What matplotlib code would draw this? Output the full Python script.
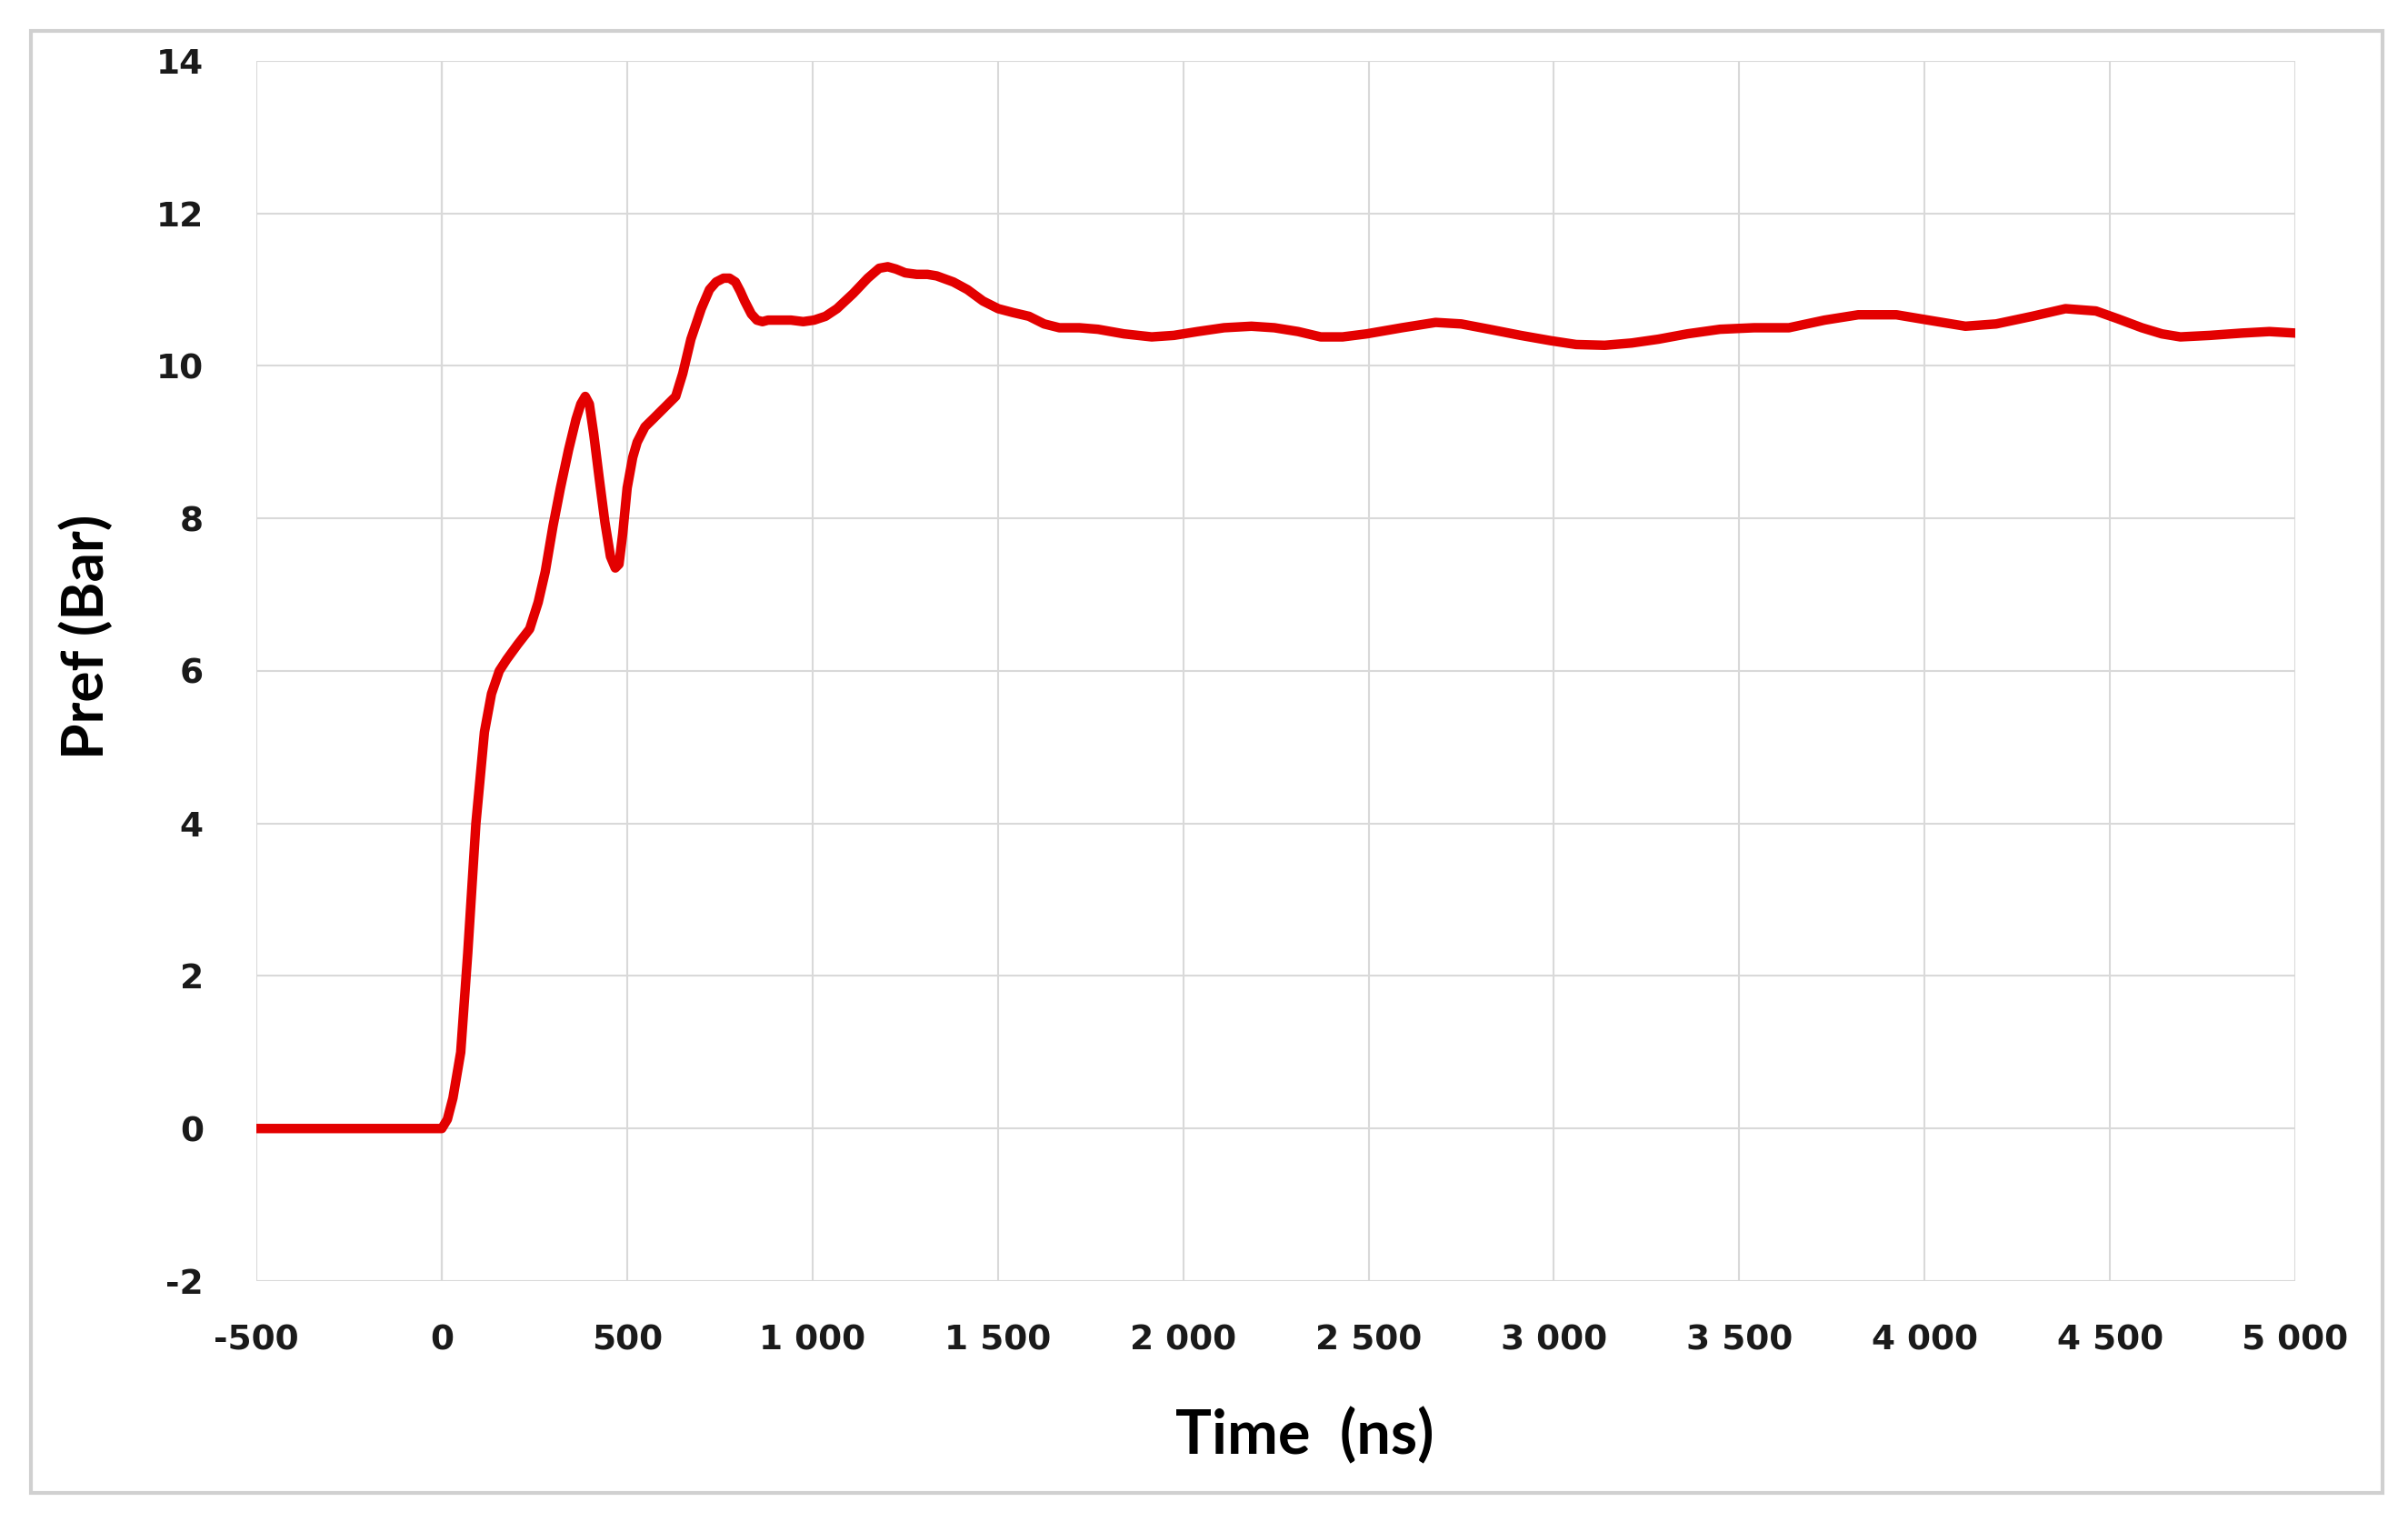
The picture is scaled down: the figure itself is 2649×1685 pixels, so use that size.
import matplotlib.pyplot as plt
from matplotlib.patches import Rectangle
from matplotlib.ticker import FuncFormatter

# values
time_ns = [-500, -400, -300, -200, -100, 0, 15, 30, 51, 70, 92, 115, 134, 155, 175, 205, 237, 260,
           279, 300, 320, 342, 362, 375, 387, 398, 410, 424, 440, 455, 468, 478, 488, 500, 515, 527, 548, 569,
           600, 631, 650, 672, 700, 722, 740, 760, 776, 792, 805, 817, 835, 850, 865, 880, 910, 942, 975, 1004,
           1035, 1066, 1110, 1149, 1180, 1203, 1225, 1250, 1281, 1310, 1335, 1380, 1418, 1460, 1501,
           1540, 1584, 1625, 1666, 1720, 1770, 1840, 1915, 1975, 2039, 2110, 2184, 2246,
           2310, 2371, 2430, 2495, 2590, 2681, 2750, 2826, 2910, 2992, 3060, 3137, 3210,
           3282, 3360, 3448, 3540, 3634, 3730, 3821, 3924, 4010, 4110, 4193, 4290, 4380,
           4462, 4520, 4586, 4640, 4690, 4770, 4856, 4930, 5000]
pressure_bar = [0.0, 0.0, 0.0, 0.0, 0.0, 0.0, 0.12, 0.4, 1.0, 2.3, 4.0, 5.2, 5.7, 6.0, 6.15, 6.35, 6.55, 6.9,
                7.3, 7.9, 8.4, 8.9, 9.3, 9.5, 9.6, 9.5, 9.1, 8.55, 7.95, 7.5, 7.35, 7.4, 7.8, 8.4, 8.8, 9.0, 9.2, 9.3,
                9.45, 9.6, 9.9, 10.35, 10.75, 11.0, 11.1, 11.15, 11.15, 11.1, 10.98, 10.85, 10.68, 10.6, 10.58, 10.6, 10.6, 10.6, 10.58, 10.6,
                10.65, 10.75, 10.95, 11.15, 11.28, 11.3, 11.27, 11.22, 11.2, 11.2, 11.18, 11.1, 11.0, 10.85, 10.75,
                10.7, 10.65, 10.55, 10.5, 10.5, 10.48, 10.42, 10.38, 10.4, 10.45, 10.5, 10.52, 10.5,
                10.45, 10.38, 10.38, 10.42, 10.5, 10.57, 10.55, 10.48, 10.4, 10.33, 10.28, 10.27, 10.3,
                10.35, 10.42, 10.48, 10.5, 10.5, 10.6, 10.67, 10.67, 10.6, 10.52, 10.55, 10.65, 10.75,
                10.72, 10.62, 10.5, 10.42, 10.38, 10.4, 10.43, 10.45, 10.43]

x_ticks = list(range(-500, 5001, 500))
y_ticks = list(range(-2, 15, 2))


def thousands(v, pos):
    v = int(round(v))
    s = f"{abs(v):,}".replace(",", " ")
    return ("-" if v < 0 else "") + s


fig = plt.figure(figsize=(26.49, 16.85), dpi=100)
ax = fig.add_axes([0.1065, 0.1638, 0.8467, 0.7965])

ax.plot(time_ns, pressure_bar, color="#e30000", lw=7.5, solid_capstyle="round",
        solid_joinstyle="round", zorder=3)

ax.set_xlim(-500, 5000)
ax.set_ylim(-2, 14)
ax.set_xticks(x_ticks)
ax.set_yticks(y_ticks)
ax.xaxis.set_major_formatter(FuncFormatter(thousands))
ax.yaxis.set_major_formatter(FuncFormatter(lambda v, p: f"{int(v)}"))
ax.grid(True, color="#d9d9d9", lw=1.5, zorder=0)
ax.axvline(0, color="#a6a6a6", lw=1.5, zorder=1)
for s in ax.spines.values():
    s.set_visible(False)
ax.tick_params(axis="x", length=0, labelsize=27, pad=34)
ax.tick_params(axis="y", length=0, labelsize=27, pad=42)
for lab in ax.get_xticklabels() + ax.get_yticklabels():
    lab.set_fontweight("bold")
    lab.set_color("#1a1a1a")

ax.set_xlabel("Time  (ns)", fontsize=48, fontweight="bold", family="Lato", labelpad=40)
ax.set_ylabel("Pref (Bar)", fontsize=46, fontweight="bold", family="Lato", labelpad=34)
ax.xaxis.label.set_x(0.514)
ax.yaxis.label.set_y(0.528)

# outer chart border
fig.patches.append(Rectangle((34 / 2649, 1 - 1642 / 1685), (2621 - 34) / 2649, (1642 - 34) / 1685,
                             transform=fig.transFigure, fill=False, edgecolor="#d0d0d0", lw=3))

fig.savefig("out.png", dpi=100)
